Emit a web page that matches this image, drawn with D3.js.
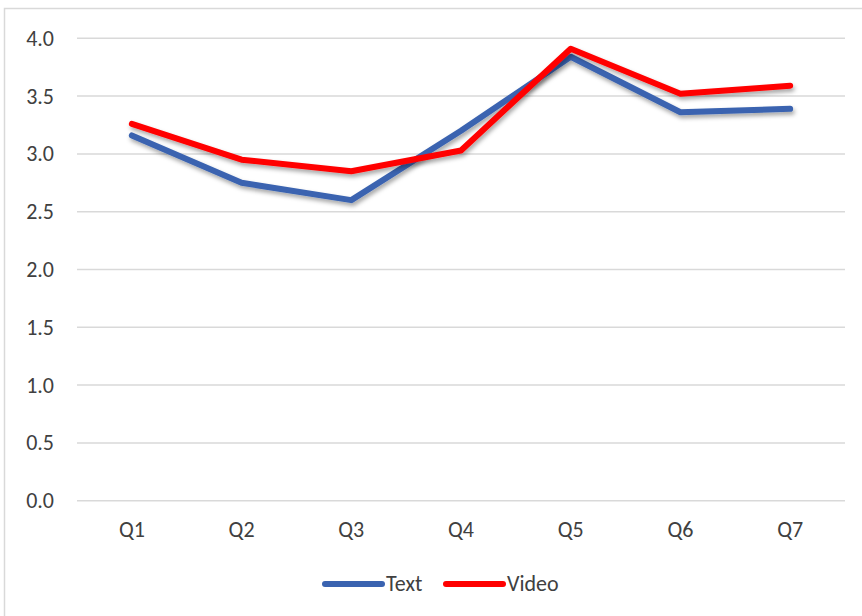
<!DOCTYPE html>
<html><head><meta charset="utf-8">
<script src="https://cdn.jsdelivr.net/npm/d3@7"></script>
<style>body{margin:0;background:#fff}svg text{font-family:Carlito,"Noto Sans","Liberation Sans",sans-serif;fill:#404040}</style>
</head><body><svg id="c" width="862" height="616"></svg>
<script>
const categories = ["Q1","Q2","Q3","Q4","Q5","Q6","Q7"];
const textValues = [3.16, 2.75, 2.60, 3.20, 3.84, 3.36, 3.39];
const videoValues = [3.26, 2.95, 2.85, 3.03, 3.91, 3.52, 3.59];
const yTicks = [0,0.5,1,1.5,2,2.5,3,3.5,4];
const seriesNames = ["Text","Video"];
const colors = ["#3A63B0","#FF0000"];

const svg = d3.select("#c");
const defs = svg.append("defs");
const f = defs.append("filter").attr("id","sh").attr("x","-10%").attr("y","-10%").attr("width","120%").attr("height","130%");
f.append("feDropShadow").attr("dx",1.5).attr("dy",3).attr("stdDeviation",2).attr("flood-color","#000").attr("flood-opacity",0.35);

svg.append("rect").attr("x",4.5).attr("y",8.5).attr("width",900).attr("height",700).attr("fill","#fff").attr("stroke","#d9d9d9").attr("stroke-width",1.5);

const x = d3.scaleBand().domain(categories).range([77,845]);
const y = d3.scaleLinear().domain([0,4]).range([500.7,38.3]);

const grid = svg.append("g");
grid.selectAll("line").data(yTicks).join("line")
  .attr("x1",77).attr("x2",845).attr("y1",d=>y(d)).attr("y2",d=>y(d))
  .attr("stroke","#d9d9d9").attr("stroke-width",1.5);

const yAxis = svg.append("g").attr("transform","translate(77,0)")
  .call(d3.axisLeft(y).tickValues(yTicks).tickFormat(d3.format(".1f")).tickSize(0).tickPadding(23));
yAxis.select(".domain").remove();
yAxis.selectAll("text").attr("font-size",22).style("fill","#404040");

const xAxis = svg.append("g").attr("transform","translate(0,500.7)")
  .call(d3.axisBottom(x).tickSize(0).tickPadding(21));
xAxis.select(".domain").remove();
xAxis.selectAll("text").attr("font-size",22).style("fill","#404040");

const line = d3.line().x((d,i)=>x(categories[i])+x.bandwidth()/2).y(d=>y(d));
[textValues, videoValues].forEach((vals,k)=>{
  svg.append("path").datum(vals).attr("d",line).attr("fill","none")
    .attr("stroke",colors[k]).attr("stroke-width",6).attr("stroke-linejoin","round").attr("stroke-linecap","round")
    .attr("filter","url(#sh)");
});

const legend = svg.append("g");
const lx = [325, 446];
seriesNames.forEach((n,k)=>{
  legend.append("line").attr("x1",lx[k]).attr("x2",lx[k]+57).attr("y1",584).attr("y2",584)
    .attr("stroke",colors[k]).attr("stroke-width",6).attr("stroke-linecap","round");
  legend.append("text").attr("x",lx[k]+61).attr("y",584).attr("dy","0.33em").attr("font-size",22).text(n);
});
</script></body></html>
